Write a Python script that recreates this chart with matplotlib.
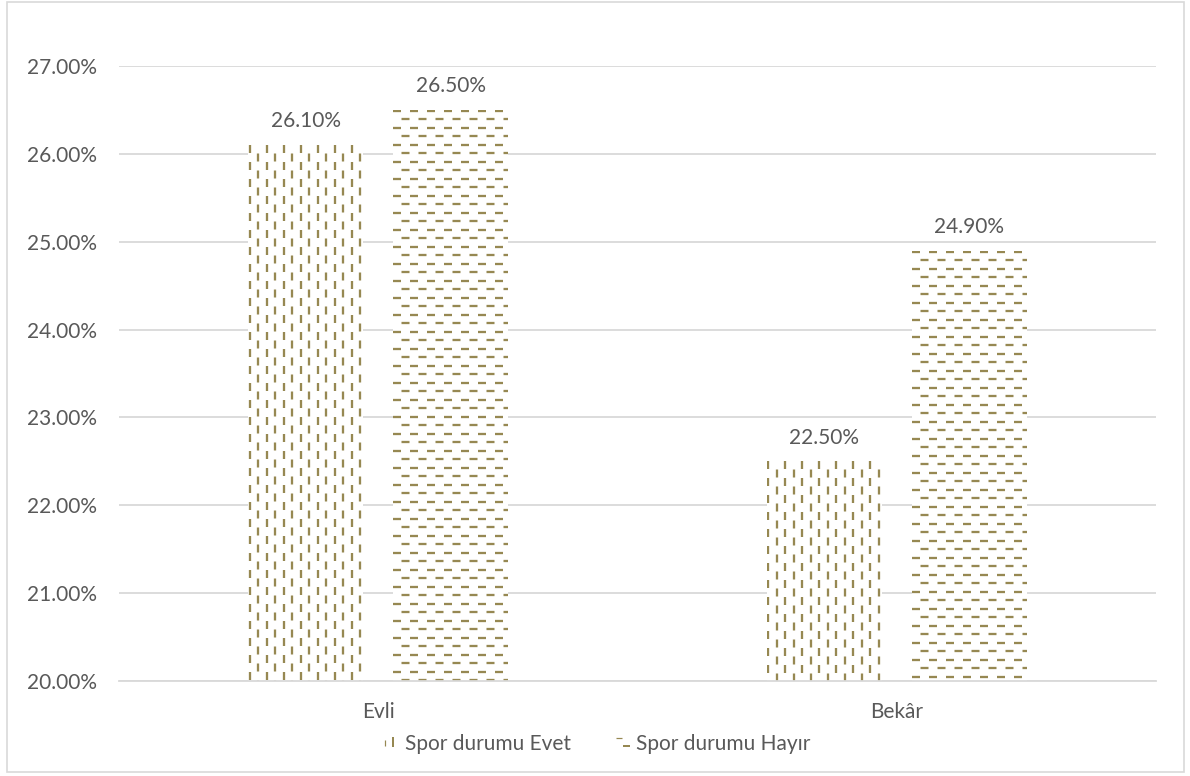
import matplotlib
matplotlib.use("Agg")
import matplotlib.pyplot as plt
from matplotlib.patches import Rectangle
import numpy as np

categories = ["Evli", "Bekâr"]
series_names = ["Spor durumu Evet", "Spor durumu Hayır"]
evet = [26.10, 22.50]
hayir = [26.50, 24.90]
yticks = [20, 21, 22, 23, 24, 25, 26, 27]

plt.rcParams["font.family"] = ["Lato", "DejaVu Sans"]
plt.rcParams["lines.scale_dashes"] = False

W, H, DPI = 1190, 776, 100
fig = plt.figure(figsize=(W / DPI, H / DPI), dpi=DPI)
fig.patch.set_facecolor("white")

# outer chart border
fig.add_artist(Rectangle((7 / W, 4 / H), 1177 / W, 770 / H, transform=fig.transFigure,
                         fill=False, edgecolor="#D9D9D9", linewidth=1.2))

ax_l, ax_r, ax_b, ax_t = 119, 1156, 681, 66
ax = fig.add_axes([ax_l / W, 1 - ax_b / H, (ax_r - ax_l) / W, (ax_b - ax_t) / H])

XMIN, XMAX, YMIN, YMAX = -0.5, 1.5, 20, 27
ax.set_xlim(XMIN, XMAX)
ax.set_ylim(YMIN, YMAX)

px_x = (ax_r - ax_l) / (XMAX - XMIN)   # pixels per x unit
px_y = (ax_b - ax_t) / (YMAX - YMIN)   # pixels per y unit
pt = 72 / DPI                            # points per pixel

hatch_color = "#968852"
text_color = "#595959"
grid_color = "#D9D9D9"
FS = 15

bar_w = 0.222
offset = 0.14
x = np.arange(len(categories))

ax.set_yticks(yticks)
ax.set_yticklabels([f"{v:.2f}%" for v in yticks])
ax.yaxis.grid(True, color=grid_color, linewidth=1.3)
ax.set_axisbelow(True)
ax.tick_params(axis="y", length=0, pad=16, labelsize=FS, labelcolor=text_color)
ax.set_xticks(x)
ax.set_xticklabels(categories)
ax.tick_params(axis="x", length=0, pad=15, labelsize=FS, labelcolor=text_color)
for s in ["top", "right", "left"]:
    ax.spines[s].set_visible(False)
ax.spines["bottom"].set_color(grid_color)
ax.spines["bottom"].set_linewidth(1.3)

spacing = 8.5          # pattern pitch in pixels
dash = 8.0 * pt
gap = 9.0 * pt
lw = 2.3 * pt


def vertical_dashes(bar):
    x0, y0 = bar.get_x(), bar.get_y()
    w, h = bar.get_width(), bar.get_height()
    n = int(w * px_x / spacing) + 1
    for i in range(n):
        xc = x0 + (i * spacing + 1.5) / px_x
        ls = (0 if i % 2 == 0 else (dash + gap) / 2, (dash, gap))
        ln, = ax.plot([xc, xc], [y0 + h, y0], color=hatch_color, lw=lw,
                      linestyle=ls, solid_capstyle="butt", dash_capstyle="butt")
        ln.set_clip_path(bar)


def horizontal_dashes(bar):
    x0, y0 = bar.get_x(), bar.get_y()
    w, h = bar.get_width(), bar.get_height()
    n = int(h * px_y / spacing) + 1
    for i in range(n):
        yc = y0 + h - (i * spacing + 1.0) / px_y
        ls = (0 if i % 2 == 0 else (dash + gap) / 2, (dash, gap))
        ln, = ax.plot([x0, x0 + w], [yc, yc], color=hatch_color, lw=lw,
                      linestyle=ls, solid_capstyle="butt", dash_capstyle="butt")
        ln.set_clip_path(bar)


bars_evet = ax.bar(x - offset, [v - YMIN for v in evet], bar_w, bottom=YMIN,
                   facecolor="white", edgecolor="none", label=series_names[0])
bars_hayir = ax.bar(x + offset, [v - YMIN for v in hayir], bar_w, bottom=YMIN,
                    facecolor="white", edgecolor="none", label=series_names[1])

for b in bars_evet:
    vertical_dashes(b)
for b in bars_hayir:
    horizontal_dashes(b)

for bars, vals in [(bars_evet, evet), (bars_hayir, hayir)]:
    for b, v in zip(bars, vals):
        ax.annotate(f"{v:.2f}%", (b.get_x() + b.get_width() / 2, v),
                    xytext=(0, 17), textcoords="offset points",
                    ha="center", va="center", fontsize=FS, color=text_color)

# legend with small pattern swatches
leg_y = 1 - 744 / H
fig.text(405 / W, leg_y, series_names[0], ha="left", va="center",
         fontsize=FS, color=text_color)
fig.text(636 / W, leg_y, series_names[1], ha="left", va="center",
         fontsize=FS, color=text_color)
swatches = [
    (385, 740, 385, 746, 1.2),
    (393, 737, 393, 747, 2.0),
    (616, 738, 622, 738, 1.2),
    (623, 746, 630, 746, 2.0),
]
for (x1, y1, x2, y2, w_px) in swatches:
    fig.add_artist(plt.Line2D([x1 / W, x2 / W], [1 - y1 / H, 1 - y2 / H],
                              transform=fig.transFigure, color=hatch_color,
                              lw=w_px * pt, solid_capstyle="butt"))

fig.savefig("out.png", dpi=DPI, facecolor="white")
